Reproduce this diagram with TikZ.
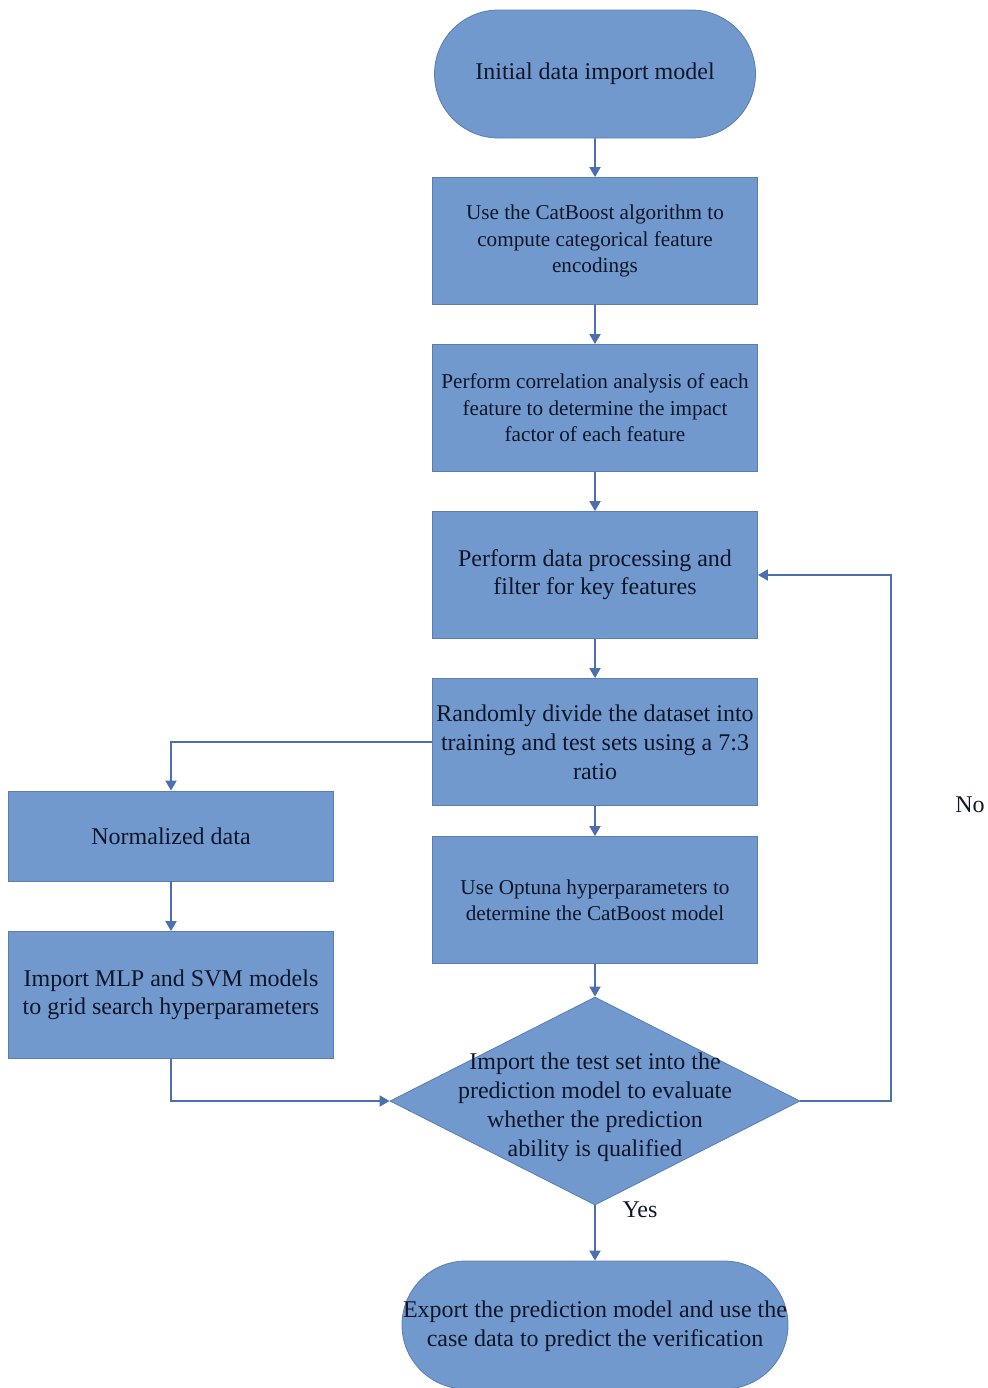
\documentclass[tikz,border=0pt]{standalone}
\usepackage{fontspec}
\setmainfont{Liberation Serif}
\usepackage{xcolor}
\definecolor{boxFill}{HTML}{7199CD}
\definecolor{boxLine}{HTML}{5A7DB2}
\definecolor{flowLine}{HTML}{4D6EAF}
\definecolor{textNavy}{HTML}{0F1628}
\usetikzlibrary{arrows.meta,shapes.misc,shapes.geometric}

\begin{document}
\begin{tikzpicture}[x=0.5pt, y=-0.5pt, >={Triangle[width=5.5pt,length=5pt]},
  stepbox/.style={draw=boxLine, fill=boxFill, text=textNavy, align=center,
    minimum width=162.5pt, minimum height=63.5pt, inner sep=1pt},
  termbox/.style={stepbox, rounded rectangle, minimum height=64pt},
  decbox/.style={draw=boxLine, fill=boxFill, diamond, inner sep=0pt,
    minimum width=205pt, minimum height=104pt},
  txtS/.style={font=\fontsize{10.6}{13.2}\selectfont},
  txtM/.style={font=\fontsize{12}{14.5}\selectfont},
  txtL/.style={font=\fontsize{12}{14}\selectfont},
  flow/.style={->, flowLine, line width=0.9pt}]
  \useasboundingbox (0,0) rectangle (987,1388);
  % terminals
  \node[termbox, txtM] (start) at (595,74) {Initial data import model};
  \node[termbox, minimum width=195pt] (export) at (595,1325) {};
  \node[txtM, text=textNavy, align=center, inner sep=0pt] (exporttext) at (595,1326)
    {Export the prediction model and use the\\case data to predict the verification};
  % main column
  \foreach \name/\y/\sz/\body in {%
    enc/241/txtS/{Use the CatBoost algorithm to\\compute categorical feature\\encodings},
    corr/408/txtS/{Perform correlation analysis of each\\feature to determine the impact\\factor of each feature},
    filter/575/txtL/{Perform data processing and\\filter for key features},
    split/742/txtM/{Randomly divide the dataset into\\training and test sets using a 7:3\\ratio},
    tune/900/txtS/{Use Optuna hyperparameters to\\determine the CatBoost model}} {
    \node[stepbox, \sz] (\name) at (595,\y) {\body};
  }
  % side branch
  \node[stepbox, txtL, minimum height=45pt] (norm) at (171,836) {Normalized data};
  \node[stepbox, txtL] (grid) at (171,995) {Import MLP and SVM models\\to grid search hyperparameters};
  % decision
  \node[decbox] (dec) at (595,1101) {};
  \node[txtM, text=textNavy, align=center, inner sep=0pt] (dectext) at (595,1107)
    {Import the test set into the\\prediction model to evaluate\\whether the prediction\\ability is qualified};
  \node[txtM, text=textNavy] (yes) at (640,1210) {Yes};
  \node[txtM, text=textNavy] (no) at (970,805) {No};
  \coordinate (loop) at (891,1101);
  % connectors
  \draw[flow] (start) -- (enc);
  \draw[flow] (enc) -- (corr);
  \draw[flow] (corr) -- (filter);
  \draw[flow] (filter) -- (split);
  \draw[flow] (split) -- (tune);
  \draw[flow] (tune) -- (dec);
  \draw[flow] (split.west) -| (norm.north);
  \draw[flow] (norm) -- (grid);
  \draw[flow] (grid.south) |- (dec.west);
  \draw[flow] (dec.east) -- (loop) |- (filter.east);
  \draw[flow] (dec) -- (export);
\end{tikzpicture}
\end{document}
